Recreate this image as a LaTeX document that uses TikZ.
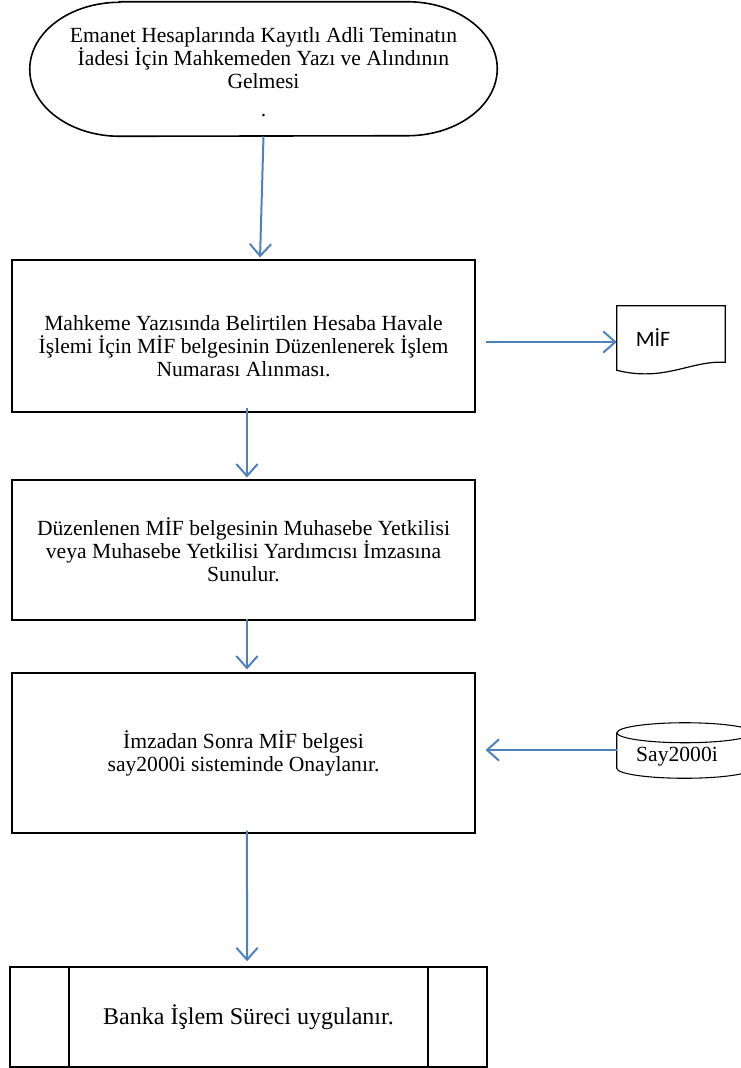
\documentclass[tikz,border=0pt]{standalone}
\usepackage{fontspec}
\setmainfont{Liberation Serif}
\newfontfamily\calibri{Carlito}
\usetikzlibrary{arrows.meta,calc}
\definecolor{arrowblue}{RGB}{79,129,189}
\begin{document}
\begin{tikzpicture}[x=0.75pt,y=-0.75pt,
  flow/.style={draw=arrowblue,line width=1.5pt,-{Straight Barb[length=9pt,width=16pt,line width=1.5pt]}},
  box/.style={draw,line width=0.8pt,minimum width=347.25pt,inner sep=0pt},
  shapeholder/.style={inner sep=0pt,draw=none},
  txt/.style={align=center,font=\fontsize{16.2}{17.25}\selectfont}]
\useasboundingbox (0,0) rectangle (741,1068);

% terminator
\node[shapeholder,minimum width=350.25pt,minimum height=100.5pt] (t) at (263.5,69) {};
\draw[line width=1.2pt] ([xshift=67.5pt]t.north west) -- ([xshift=-67.5pt]t.north east)
  arc[start angle=90,end angle=-90,x radius=67.5pt,y radius=50.25pt]
  -- ([xshift=67.5pt]t.south west)
  arc[start angle=270,end angle=90,x radius=67.5pt,y radius=50.25pt] -- cycle;
\node[txt] (tt) at (263.5,72) {Emanet Hesaplarında Kayıtlı Adli Teminatın\\İadesi İçin Mahkemeden Yazı ve Alındının\\Gelmesi\\[4pt].};

% box 1
\node[box,minimum height=114pt] (b1) at (243.5,336) {};
\node[txt] (b1t) at (243.5,346.5) {Mahkeme Yazısında Belirtilen Hesaba Havale\\İşlemi İçin MİF belgesinin Düzenlenerek İşlem\\Numarası Alınması.};

% box 2
\node[box,txt,minimum height=105pt] (b2) at (243.5,550) {Düzenlenen MİF belgesinin Muhasebe Yetkilisi\\veya Muhasebe Yetkilisi Yardımcısı İmzasına\\Sunulur.};

% box 3
\node[box,txt,minimum height=120pt] (b3) at (243.5,753) {İmzadan Sonra MİF belgesi\\say2000i sisteminde Onaylanır.};

% predefined process
\node[draw,line width=1.2pt,inner sep=0pt,minimum width=357.75pt,minimum height=75pt,
      font=\fontsize{18}{21}\selectfont] (p) at (248.5,1017) {Banka İşlem Süreci uygulanır.};
\draw[line width=1.2pt] ([xshift=45pt]p.north west) -- ([xshift=45pt]p.south west);
\draw[line width=1.2pt] ([xshift=-45pt]p.north east) -- ([xshift=-45pt]p.south east);

% document MIF
\node[shapeholder,minimum width=81pt,minimum height=49.5pt] (mif) at (671,339) {};
\draw[line width=0.9pt] (mif.north west) -- (mif.north east) -- ([yshift=7.5pt]mif.south east)
  .. controls ([xshift=-26pt,yshift=9pt]mif.south east) and ([xshift=36pt,yshift=-7.5pt]mif.south west) .. ([yshift=1.5pt]mif.south west) -- cycle;
\node[font=\calibri\fontsize{16.5}{19}\selectfont] (mift) at (653,338) {MİF};

% cylinder Say2000i
\node[shapeholder,minimum width=102pt,minimum height=26.25pt] (say) at (685,750.5) {};
\draw[line width=0.8pt] (say.north) ellipse[x radius=51pt,y radius=7.5pt];
\draw[line width=0.8pt] (say.north west) -- (say.south west)
  arc[start angle=180,end angle=360,x radius=51pt,y radius=7.5pt] -- (say.north east);
\node[txt] (sayt) at (677,757) {Say2000i};

% connectors
\draw[flow] (t.south) -- ($(b1.north)+(12.4pt,1.5pt)$);
\draw[flow] ($(b1.south)+(2.6pt,3.75pt)$) -- ($(b2.north)+(2.6pt,1.5pt)$);
\draw[flow] ($(b2.south)+(2.6pt,1.5pt)$) -- ($(b3.north)+(2.6pt,2.25pt)$);
\draw[flow] ($(b3.south)+(2.6pt,2.25pt)$) -- ($(p.north)+(-1.1pt,3.75pt)$);
\draw[flow] ($(b1.east |- mif.west)+(7.5pt,-2.25pt)$) -- ($(mif.west)+(0,-2.25pt)$);
\draw[flow] ($(say.west)+(0,0.375pt)$) -- ($(b3.east |- say.west)+(7.5pt,0.375pt)$);
\end{tikzpicture}
\end{document}
